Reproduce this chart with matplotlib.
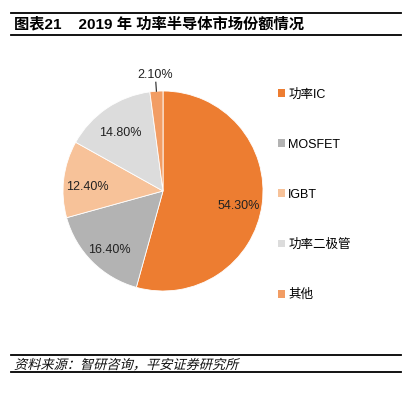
import matplotlib
matplotlib.use("Agg")
import matplotlib.pyplot as plt
import numpy as np
from matplotlib.textpath import TextPath
from matplotlib.patches import PathPatch
from matplotlib.font_manager import FontProperties
from matplotlib.transforms import Affine2D, IdentityTransform

plt.rcParams['font.family'] = ['Liberation Sans', 'Noto Sans CJK SC', 'DejaVu Sans']

categories = ["功率IC", "MOSFET", "IGBT", "功率二极管", "其他"]
shares = [54.3, 16.4, 12.4, 14.8, 2.1]
colors = ['#ED7D31', '#B3B3B3', '#F7C299', '#DCDCDC', '#F29D64']

title = "图表21    2019 年 功率半导体市场份额情况"
source = "资料来源：智研咨询，平安证券研究所"

W, H = 418, 398
fig = plt.figure(figsize=(W / 100, H / 100), dpi=100)
fig.patch.set_facecolor('white')

# pie axes: centre (163,191) px, radius 100 px
cx, cy, r = 163, 191, 100
ax = fig.add_axes([(cx - r) / W, (H - cy - r) / H, 2 * r / W, 2 * r / H])
wedges, texts, autotexts = ax.pie(
    shares, colors=colors, startangle=90, counterclock=False,
    autopct='%.2f%%', pctdistance=0.76,
    textprops=dict(fontsize=9, color='#222222'),
    wedgeprops=dict(linewidth=0.6, edgecolor='white'))
ax.set_xlim(-1, 1)
ax.set_ylim(-1, 1)
ax.set_aspect('equal')
ax.axis('off')

# nudge labels a little lower, as in the reference
for t in autotexts[:-1]:
    x, y = t.get_position()
    t.set_position((x, y - 0.05))

# small slice: label outside with a leader line
w = wedges[-1]
ang = np.deg2rad((w.theta1 + w.theta2) / 2)
autotexts[-1].set_position((1.16 * np.cos(ang), 1.16 * np.sin(ang)))
autotexts[-1].set_ha('center')
autotexts[-1].set_va('center')
ax.plot([np.cos(ang) * 1.0, np.cos(ang) * 1.09],
        [np.sin(ang) * 1.0, np.sin(ang) * 1.09],
        color='#222222', lw=0.8, clip_on=False)

leg = fig.legend(wedges, categories, loc='upper left',
                 bbox_to_anchor=(272 / W, 1 - 82 / H), frameon=False,
                 fontsize=9, handlelength=0.55, handleheight=0.55,
                 handletextpad=0.25, labelspacing=3.05, borderpad=0)
for h in leg.legend_handles:
    h.set_edgecolor('none')

# title and source with rules
def hline(y):
    fig.add_artist(plt.Line2D([11 / W, 401 / W], [1 - y / H, 1 - y / H],
                              color='black', lw=1.3))

hline(13)
hline(35)
fig.text(14 / W, 1 - 24.5 / H, title, fontsize=11, fontweight='bold',
         va='center', ha='left')
hline(355)
hline(372)

# italic source line: CJK font has no italic, so shear the glyph outlines
tp = TextPath((0, 0), source, size=9.5,
              prop=FontProperties(family='Noto Sans CJK SC'))
tr = (Affine2D().skew_deg(14, 0).scale(100 / 72)
      .translate(14, H - 369))
fig.add_artist(PathPatch(tp, transform=tr + IdentityTransform(),
                         facecolor='#111111', edgecolor='none'))

fig.savefig("out.png", dpi=100, facecolor='white')
